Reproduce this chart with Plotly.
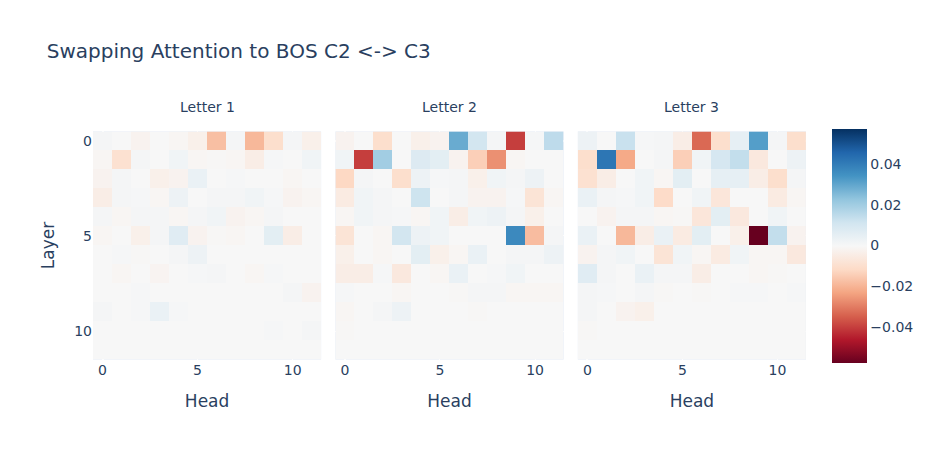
import numpy as np
import plotly.express as px

facet_labels = ["Letter 1", "Letter 2", "Letter 3"]
heads = list(range(12))
layers = list(range(12))

letter1 = [
    [0.001, 0.0, -0.002, 0.0, -0.001, -0.003, -0.0175, 0.001, -0.019, -0.010, 0.001, -0.003],
    [-0.001, -0.009, 0.001, 0.0, 0.002, -0.001, -0.0005, -0.001, -0.004, 0.0005, 0.0, 0.002],
    [-0.002, 0.001, 0.0, -0.003, -0.002, 0.004, 0.0, 0.0005, 0.0, 0.0, -0.001, 0.0],
    [-0.004, 0.001, 0.0005, -0.001, 0.003, 0.0, 0.001, 0.001, 0.002, 0.0005, -0.002, -0.001],
    [0.001, -0.001, 0.001, 0.001, -0.001, 0.001, 0.002, -0.002, -0.001, 0.001, 0.0, 0.0],
    [-0.001, 0.0, -0.003, 0.001, 0.007, -0.002, -0.0005, -0.001, 0.0, 0.006, -0.004, 0.0],
    [0.0, 0.0005, -0.0005, 0.0, 0.001, 0.003, 0.0, 0.0, 0.0, 0.0, 0.0, 0.0],
    [0.0, -0.001, 0.0, -0.0015, 0.0, 0.0005, 0.001, 0.0, -0.001, 0.0005, 0.0, 0.0],
    [0.0, 0.0, 0.0005, 0.0, 0.0, 0.0, 0.0, 0.0, 0.0, 0.0, 0.001, -0.002],
    [0.001, 0.0, 0.0005, 0.004, 0.0005, 0.0, 0.0, 0.0, 0.0, 0.0, 0.0, 0.0],
    [0.0, 0.0, 0.0, 0.0, 0.0, 0.0, 0.0, 0.0, 0.0, 0.0005, 0.0, 0.001],
    [0.0, 0.0, 0.0, 0.0, 0.0, 0.0, 0.0, 0.0, 0.0, 0.0, 0.0, 0.0],
]

letter2 = [
    [-0.002, 0.0, -0.010, 0.0, -0.003, -0.002, 0.029, 0.011, 0.001, -0.040, 0.0005, 0.015],
    [0.002, -0.040, 0.020, 0.0, 0.008, 0.006, -0.002, -0.014, -0.0265, -0.001, 0.0, 0.0],
    [-0.012, 0.001, 0.0, -0.010, 0.003, 0.0005, 0.001, -0.003, 0.002, 0.001, 0.003, 0.0],
    [-0.005, 0.002, 0.001, 0.0, 0.012, 0.0, 0.001, -0.002, -0.002, 0.0005, -0.008, -0.001],
    [-0.001, 0.002, 0.001, 0.0005, -0.001, 0.002, -0.004, 0.002, 0.003, 0.001, -0.003, 0.0],
    [-0.008, 0.0, -0.001, 0.011, 0.003, 0.002, 0.0, 0.0, 0.0, 0.037, -0.018, 0.001],
    [-0.003, 0.0, -0.001, 0.0, 0.006, -0.003, -0.001, 0.004, 0.0, 0.001, 0.001, 0.003],
    [-0.004, -0.004, 0.0005, -0.006, 0.0, -0.001, 0.004, 0.0, 0.0005, 0.002, 0.0, 0.0],
    [0.0005, 0.0, 0.0, -0.001, 0.0, 0.0, -0.0005, 0.001, 0.001, -0.001, -0.001, -0.001],
    [-0.001, 0.0, 0.001, 0.003, 0.0, 0.0, 0.0, -0.0005, 0.0, 0.0, 0.0, 0.0],
    [-0.0005, 0.0, 0.0, 0.0, 0.0, 0.0, 0.0, 0.0, 0.0, 0.0, 0.0, 0.0],
    [0.0, 0.0, 0.0, 0.0, 0.0, 0.0, 0.0, 0.0, 0.0, 0.0, 0.0, 0.0],
]

letter3 = [
    [0.003, 0.0, 0.013, 0.0005, 0.001, -0.004, -0.033, -0.010, 0.005, 0.032, 0.001, -0.010],
    [-0.010, 0.042, -0.022, 0.0, 0.001, -0.014, 0.002, 0.010, 0.014, -0.006, 0.0, 0.003],
    [-0.009, -0.004, 0.0, 0.002, -0.001, 0.006, 0.0, 0.005, 0.005, -0.004, -0.010, 0.001],
    [0.004, 0.001, 0.0005, 0.002, -0.011, 0.0, 0.002, -0.007, 0.0, 0.0, -0.005, -0.001],
    [0.0, -0.002, 0.001, 0.001, -0.001, -0.0005, -0.007, 0.006, -0.006, 0.0, 0.002, 0.0],
    [0.004, 0.0, -0.019, -0.004, 0.004, -0.005, 0.006, 0.0, -0.003, -0.0575, 0.014, -0.002],
    [-0.002, 0.001, 0.002, 0.0, -0.008, 0.002, -0.001, -0.005, 0.002, -0.001, -0.001, -0.006],
    [0.007, 0.001, 0.0, 0.004, 0.001, 0.001, -0.004, 0.0, 0.0, -0.001, -0.0005, 0.0],
    [0.001, 0.0005, 0.0, 0.001, -0.0005, 0.0, -0.0005, 0.0, 0.0005, 0.0005, 0.0, 0.0005],
    [0.001, 0.0, -0.002, -0.003, 0.0, 0.0, 0.0, 0.0, 0.0, 0.0, 0.0, 0.0],
    [-0.0005, 0.0, 0.0, 0.0, 0.0, 0.0, 0.0, 0.0, 0.0, 0.0, 0.0, 0.0],
    [0.0, 0.0, 0.0, 0.0, 0.0, 0.0, 0.0, 0.0, 0.0, 0.0, 0.0, 0.0],
]

data = np.array([letter1, letter2, letter3])

fig = px.imshow(
    data,
    facet_col=0,
    x=heads,
    y=layers,
    labels={"x": "Head", "y": "Layer"},
    color_continuous_scale=px.colors.diverging.RdBu,
    color_continuous_midpoint=0,
)

for i, ann in enumerate(fig.layout.annotations):
    ann.text = facet_labels[i]
    ann.font = dict(size=14)

S = 934 / 800
fig.update_yaxes(dtick=5)
fig.update_xaxes(dtick=5, title_standoff=18)
fig.update_layout(
    width=934,
    height=467,
    font=dict(family="DejaVu Sans", size=12 * S),
    title=dict(
        text="Swapping Attention to BOS C2 <-> C3",
        x=0.05,
        xanchor="left",
        y=1 - 51 / 467,
        yanchor="middle",
        yref="container",
    ),
    margin=dict(l=80 * S, r=80 * S, t=100 * S, b=80 * S),
    coloraxis_colorbar=dict(
        title_text="",
        thickness=30 * S,
        xpad=10 * S,
        ypad=10 * S,
        ticklen=5 * S,
    ),
)
fig.write_html(
    "out.html",
    config={"displayModeBar": False},
    post_script="document.body.style.margin='0';document.body.style.overflow='hidden';",
)
